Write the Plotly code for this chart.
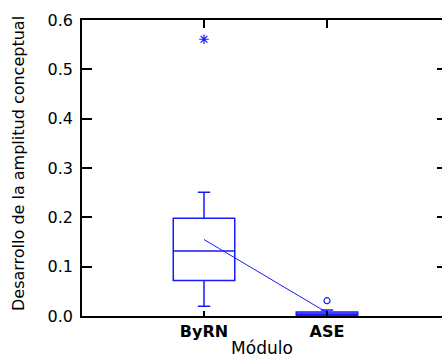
import plotly.graph_objects as go

# ---- data ----
modules = ["ByRN", "ASE"]
positions = [1, 2]
q1 = [0.072, 0.001]
medians = [0.132, 0.004]
q3 = [0.198, 0.008]
lower_whisker = [0.020, 0.0]
upper_whisker = [0.251, 0.012]
means = [0.155, 0.007]
far_outlier_x = [1]
far_outlier_y = [0.561]
near_outlier_x = [2]
near_outlier_y = [0.031]
y_ticks = [0.0, 0.1, 0.2, 0.3, 0.4, 0.5, 0.6]

BLUE = "#1a1aff"
FONT = "DejaVu Sans"

fig = go.Figure()

# boxes
fig.add_trace(go.Box(
    x=[positions[0]], q1=[q1[0]], median=[medians[0]], q3=[q3[0]],
    lowerfence=[lower_whisker[0]], upperfence=[upper_whisker[0]],
    width=0.5, whiskerwidth=0.2, boxpoints=False,
    line=dict(color=BLUE, width=1.5), fillcolor="rgba(0,0,0,0)",
    hoverinfo="skip"))
fig.add_trace(go.Box(
    x=[positions[1]], q1=[q1[1]], median=[medians[1]], q3=[q3[1]],
    lowerfence=[lower_whisker[1]], upperfence=[upper_whisker[1]],
    width=0.5, whiskerwidth=0.2, boxpoints=False,
    line=dict(color=BLUE, width=1.5), fillcolor="rgba(80,80,255,0.5)",
    hoverinfo="skip"))

# mean line
fig.add_trace(go.Scatter(x=positions, y=means, mode="lines",
                         line=dict(color=BLUE, width=1), hoverinfo="skip"))

# outliers
fig.add_trace(go.Scatter(x=far_outlier_x, y=far_outlier_y, mode="markers",
                         marker=dict(symbol="asterisk-open", size=8, color=BLUE,
                                     line=dict(color=BLUE, width=1.2))))
fig.add_trace(go.Scatter(x=near_outlier_x, y=near_outlier_y, mode="markers",
                         marker=dict(symbol="circle-open", size=6, color=BLUE,
                                     line=dict(color=BLUE, width=1.2))))

# invisible trace so that the mirrored top/right axes are drawn
fig.add_trace(go.Scatter(x=positions, y=means, mode="markers",
                         marker=dict(opacity=0), xaxis="x2", yaxis="y2",
                         hoverinfo="skip"))

xrange = [0.008, 2.935]
yrange = [0, 0.6]

fig.update_layout(
    width=442, height=358,
    margin=dict(l=82, r=0, t=20, b=42),
    plot_bgcolor="white", paper_bgcolor="white",
    showlegend=False,
    font=dict(family=FONT, color="black"),
    xaxis=dict(
        range=xrange, tickmode="array", tickvals=positions, ticktext=modules,
        ticks="inside", ticklen=5, tickwidth=1.5, tickcolor="black",
        showline=True, linecolor="black", linewidth=1.5,
        showgrid=False, zeroline=False, automargin=False,
        tickfont=dict(family=FONT, size=16, weight="bold"),
        title=dict(text="Módulo", font=dict(family=FONT, size=17), standoff=7),
    ),
    xaxis2=dict(
        overlaying="x", side="top", anchor="y2", range=xrange, tickmode="array",
        tickvals=positions, showticklabels=False,
        ticks="inside", ticklen=8, tickwidth=2, tickcolor="black",
        showline=True, linecolor="black", linewidth=1.5,
        showgrid=False, zeroline=False, automargin=False,
    ),
    yaxis=dict(
        range=yrange, tickmode="array", tickvals=y_ticks, tickformat=".1f",
        ticks="inside", ticklen=10, tickwidth=1.5, tickcolor="black",
        showline=True, linecolor="black", linewidth=1.5,
        showgrid=False, zeroline=False, automargin=False,
        tickfont=dict(family=FONT, size=16),
        ticklabelstandoff=4,
    ),
    yaxis2=dict(
        overlaying="y", side="right", anchor="x2", range=yrange, tickmode="array",
        tickvals=y_ticks, showticklabels=False,
        ticks="inside", ticklen=5, tickwidth=1.5, tickcolor="black",
        showline=False, showgrid=False, zeroline=False, automargin=False,
    ),
    annotations=[dict(
        text="Desarrollo de la amplitud conceptual", textangle=-90,
        xref="paper", yref="paper", x=(18 - 82) / 360, y=(316 - 164) / 296,
        xanchor="center", yanchor="middle", showarrow=False,
        font=dict(family=FONT, size=16, color="black"))],
)

fig.write_html(
    "out.html",
    config={"displayModeBar": False},
    post_script="document.body.style.margin='0';document.body.style.overflow='hidden';",
)
